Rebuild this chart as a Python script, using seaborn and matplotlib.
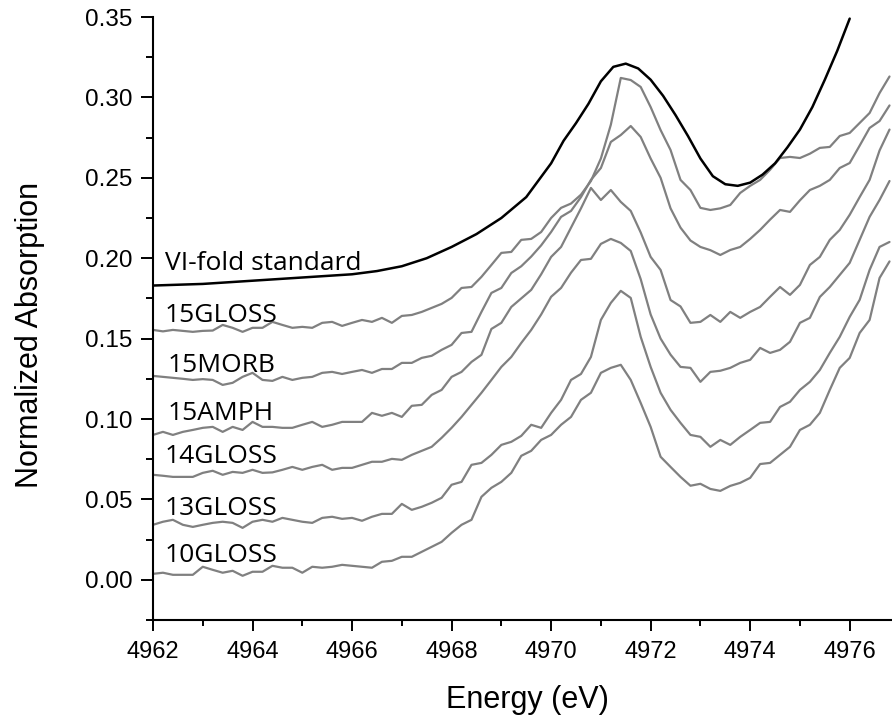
import numpy as np
import pandas as pd
import matplotlib
matplotlib.use("Agg")
import matplotlib.pyplot as plt
from matplotlib.ticker import MultipleLocator, FormatStrFormatter
import seaborn as sns

# Scan energies shared by the glass / mineral spectra (eV, 0.2 eV steps)
scan_energy = np.round(np.arange(4962.0, 4976.81, 0.2), 1)

gloss15 = [
    0.1554, 0.1545, 0.1554, 0.1548, 0.1542,
    0.1548, 0.1550, 0.1585, 0.1567, 0.1542,
    0.1567, 0.1567, 0.1604, 0.1585, 0.1567,
    0.1573, 0.1567, 0.1598, 0.1604, 0.1579,
    0.1598, 0.1616, 0.1604, 0.1629, 0.1598,
    0.1641, 0.1647, 0.1666, 0.1691, 0.1716,
    0.1753, 0.1815, 0.1821, 0.1884, 0.1958,
    0.2033, 0.2039, 0.2114, 0.2120, 0.2163,
    0.2250, 0.2313, 0.2340, 0.2395, 0.2480,
    0.2620, 0.2830, 0.3121, 0.3108, 0.3065,
    0.2940, 0.2797, 0.2673, 0.2487, 0.2424,
    0.2313, 0.2300, 0.2310, 0.2331, 0.2406,
    0.2450, 0.2487, 0.2550, 0.2623, 0.2630,
    0.2623, 0.2650, 0.2686, 0.2692, 0.2760,
    0.2779, 0.2841, 0.2903, 0.3027, 0.3130,
]
morb15 = [
    0.1268, 0.1262, 0.1256, 0.1250, 0.1243,
    0.1248, 0.1243, 0.1212, 0.1225, 0.1262,
    0.1287, 0.1243, 0.1237, 0.1262, 0.1243,
    0.1256, 0.1262, 0.1287, 0.1293, 0.1280,
    0.1293, 0.1305, 0.1287, 0.1311, 0.1311,
    0.1349, 0.1349, 0.1380, 0.1393, 0.1430,
    0.1461, 0.1535, 0.1542, 0.1666, 0.1784,
    0.1815, 0.1908, 0.1950, 0.2010, 0.2080,
    0.2163, 0.2257, 0.2294, 0.2380, 0.2487,
    0.2561, 0.2723, 0.2766, 0.2822, 0.2754,
    0.2620, 0.2500, 0.2310, 0.2190, 0.2110,
    0.2070, 0.2050, 0.2020, 0.2051, 0.2070,
    0.2120, 0.2176, 0.2240, 0.2300, 0.2288,
    0.2360, 0.2424, 0.2450, 0.2487, 0.2561,
    0.2592, 0.2700, 0.2810, 0.2853, 0.2950,
]
amph15 = [
    0.0901, 0.0920, 0.0901, 0.0920, 0.0932,
    0.0945, 0.0951, 0.0920, 0.0951, 0.0932,
    0.0982, 0.0951, 0.0951, 0.0945, 0.0945,
    0.0964, 0.0982, 0.0951, 0.0964, 0.0982,
    0.0982, 0.0982, 0.1038, 0.1020, 0.1038,
    0.1013, 0.1082, 0.1088, 0.1150, 0.1181,
    0.1262, 0.1293, 0.1355, 0.1399, 0.1560,
    0.1598, 0.1697, 0.1750, 0.1803, 0.1900,
    0.2008, 0.2070, 0.2190, 0.2310, 0.2437,
    0.2362, 0.2424, 0.2350, 0.2294, 0.2160,
    0.2008, 0.1927, 0.1740, 0.1700, 0.1598,
    0.1604, 0.1647, 0.1604, 0.1666, 0.1629,
    0.1666, 0.1697, 0.1760, 0.1821, 0.1772,
    0.1834, 0.1958, 0.2008, 0.2114, 0.2176,
    0.2270, 0.2380, 0.2487, 0.2670, 0.2800,
]
gloss14 = [
    0.0653, 0.0647, 0.0640, 0.0640, 0.0640,
    0.0665, 0.0678, 0.0653, 0.0671, 0.0665,
    0.0684, 0.0665, 0.0668, 0.0684, 0.0702,
    0.0684, 0.0702, 0.0715, 0.0684, 0.0696,
    0.0696, 0.0715, 0.0734, 0.0734, 0.0752,
    0.0746, 0.0777, 0.0802, 0.0827, 0.0883,
    0.0945, 0.1013, 0.1088, 0.1163, 0.1243,
    0.1324, 0.1386, 0.1473, 0.1554, 0.1650,
    0.1760, 0.1815, 0.1910, 0.1989, 0.1996,
    0.2089, 0.2120, 0.2095, 0.2045, 0.1870,
    0.1650, 0.1500, 0.1400, 0.1324, 0.1318,
    0.1231, 0.1293, 0.1300, 0.1318, 0.1349,
    0.1368, 0.1442, 0.1411, 0.1430, 0.1480,
    0.1598, 0.1629, 0.1759, 0.1821, 0.1896,
    0.1971, 0.2114, 0.2257, 0.2362, 0.2480,
]
gloss13 = [
    0.0342, 0.0361, 0.0373, 0.0342, 0.0329,
    0.0342, 0.0354, 0.0361, 0.0354, 0.0323,
    0.0361, 0.0373, 0.0361, 0.0385, 0.0373,
    0.0361, 0.0354, 0.0385, 0.0392, 0.0379,
    0.0385, 0.0367, 0.0392, 0.0410, 0.0410,
    0.0472, 0.0435, 0.0454, 0.0479, 0.0510,
    0.0591, 0.0609, 0.0715, 0.0727, 0.0777,
    0.0839, 0.0858, 0.0895, 0.0964, 0.0945,
    0.1038, 0.1119, 0.1243, 0.1280, 0.1386,
    0.1616, 0.1722, 0.1797, 0.1753, 0.1511,
    0.1324, 0.1163, 0.1057, 0.0976, 0.0901,
    0.0889, 0.0827, 0.0870, 0.0839, 0.0889,
    0.0932, 0.0976, 0.0982, 0.1075, 0.1107,
    0.1181, 0.1231, 0.1305, 0.1411, 0.1511,
    0.1635, 0.1741, 0.1927, 0.2070, 0.2101,
]
gloss10 = [
    0.0037, 0.0044, 0.0031, 0.0031, 0.0031,
    0.0081, 0.0062, 0.0044, 0.0056, 0.0025,
    0.0050, 0.0050, 0.0087, 0.0075, 0.0075,
    0.0044, 0.0081, 0.0075, 0.0081, 0.0093,
    0.0087, 0.0081, 0.0075, 0.0112, 0.0118,
    0.0143, 0.0143, 0.0174, 0.0205, 0.0236,
    0.0292, 0.0342, 0.0373, 0.0516, 0.0572,
    0.0609, 0.0665, 0.0771, 0.0802, 0.0870,
    0.0901, 0.0964, 0.1013, 0.1119, 0.1163,
    0.1287, 0.1318, 0.1337, 0.1243, 0.1100,
    0.0951, 0.0765, 0.0702, 0.0640, 0.0585,
    0.0597, 0.0565, 0.0553, 0.0584, 0.0603,
    0.0634, 0.0720, 0.0727, 0.0777, 0.0827,
    0.0932, 0.0964, 0.1038, 0.1181, 0.1318,
    0.1380, 0.1535, 0.1616, 0.1877, 0.1980,
]

# Octahedral (VI-fold) Ti reference spectrum
std_energy = [
    4962.0, 4963.0, 4964.0, 4965.0, 4966.0, 4966.5, 4967.0, 4967.5,
    4968.0, 4968.5, 4969.0, 4969.5, 4970.0, 4970.25, 4970.5, 4970.75,
    4971.0, 4971.25, 4971.5, 4971.75, 4972.0, 4972.25, 4972.5, 4972.75,
    4973.0, 4973.25, 4973.5, 4973.75, 4974.0, 4974.25, 4974.5, 4974.75,
    4975.0, 4975.25, 4975.5, 4975.75, 4976.0,
]
std_abs = [
    0.183, 0.184, 0.186, 0.188, 0.190, 0.192, 0.195, 0.200,
    0.207, 0.215, 0.225, 0.238, 0.259, 0.273, 0.284, 0.296,
    0.310, 0.319, 0.321, 0.318, 0.311, 0.301, 0.289, 0.276,
    0.262, 0.251, 0.246, 0.245, 0.247, 0.252, 0.259, 0.269,
    0.280, 0.294, 0.311, 0.329, 0.349,
]

sample_names = ["15GLOSS", "15MORB", "15AMPH", "14GLOSS", "13GLOSS", "10GLOSS"]
sample_values = [gloss15, morb15, amph15, gloss14, gloss13, gloss10]
std_name = "VI-fold standard"

frames = [
    pd.DataFrame({"energy": scan_energy, "absorption": vals, "sample": name})
    for name, vals in zip(sample_names, sample_values)
]
frames.append(pd.DataFrame({"energy": std_energy, "absorption": std_abs, "sample": std_name}))
spectra = pd.concat(frames, ignore_index=True)

sns.set_theme(style="ticks")
plt.rcParams["font.family"] = ["Liberation Sans", "DejaVu Sans"]
plt.rcParams.update({
    "text.color": "black",
    "axes.labelcolor": "black",
    "xtick.color": "black",
    "ytick.color": "black",
    "xtick.labelcolor": "black",
    "ytick.labelcolor": "black",
})

fig = plt.figure(figsize=(8.92, 7.2), dpi=100)
ax = fig.add_axes([153 / 892, 1 - 620 / 720, 1 - 153 / 892, (620 - 17) / 720])

palette = {name: "#808080" for name in sample_names}
palette[std_name] = "#000000"

sns.lineplot(
    data=spectra[spectra["sample"] != std_name], x="energy", y="absorption",
    hue="sample", palette=palette, estimator=None, sort=False,
    legend=False, linewidth=1.6, ax=ax,
)
sns.lineplot(
    data=spectra[spectra["sample"] == std_name], x="energy", y="absorption",
    hue="sample", palette=palette, estimator=None, sort=False,
    legend=False, linewidth=1.8, ax=ax,
)

ax.set_xlim(4962.0, 4976.85)
ax.set_ylim(-0.025, 0.35)

ax.xaxis.set_major_locator(MultipleLocator(2))
ax.xaxis.set_minor_locator(MultipleLocator(1))
ax.yaxis.set_major_locator(MultipleLocator(0.05))
ax.yaxis.set_minor_locator(MultipleLocator(0.025))
ax.yaxis.set_major_formatter(FormatStrFormatter("%.2f"))

sns.despine(ax=ax)
for side in ("left", "bottom"):
    ax.spines[side].set_linewidth(1.5)
    ax.spines[side].set_color("black")

ax.tick_params(axis="x", which="major", direction="out", length=8, width=1.4,
               color="black", labelcolor="black", labelsize=17, pad=7)
ax.tick_params(axis="x", which="minor", direction="out", length=4.3, width=1.4,
               color="black")
ax.tick_params(axis="y", which="major", direction="out", length=9, width=1.4,
               color="black", labelcolor="black", labelsize=17.5, pad=6)
ax.tick_params(axis="y", which="minor", direction="out", length=5, width=1.4,
               color="black")

ax.set_xlabel("Energy (eV)", fontsize=22, va="center", color="black")
ax.xaxis.set_label_coords((527 - 153) / 739, (620 - 700) / 603)
ax.set_ylabel("Normalized Absorption", fontsize=22, va="center", color="black")
ax.yaxis.set_label_coords((30 - 153) / 739, (620 - 335) / 603)

label_font = ["Open Sans", "DejaVu Sans"]
labels = [std_name] + sample_names
label_x = [4962.24, 4962.24, 4962.30, 4962.30, 4962.24, 4962.24, 4962.24]
label_y = [0.1927, 0.1604, 0.1293, 0.0995, 0.0727, 0.0404, 0.0112]
for text, lx, ly in zip(labels, label_x, label_y):
    ax.text(lx, ly, text, fontsize=19, family=label_font, color="black",
            ha="left", va="baseline")

fig.savefig("out.png", dpi=100)
